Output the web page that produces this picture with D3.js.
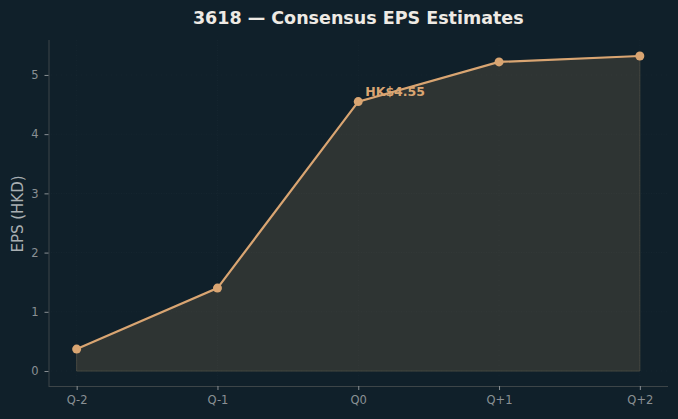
<!DOCTYPE html>
<html>
<head>
<meta charset="utf-8">
<script src="https://cdn.jsdelivr.net/npm/d3@7"></script>
<style>
  body { margin: 0; background: #10202a; }
  svg { display: block; font-family: "DejaVu Sans", sans-serif; }
</style>
</head>
<body>
<script>
// data
let quarters = ["Q-2", "Q-1", "Q0", "Q+1", "Q+2"]
let eps = [0.37, 1.40, 4.55, 5.22, 5.32]
let yTicks = [0, 1, 2, 3, 4, 5]
let current = 2 // Q0 label

let W = 678, H = 419
let margin = {top: 40, right: 10, bottom: 33, left: 48.5}

let svg = d3.select("body").append("svg")
  .attr("width", W).attr("height", H)

svg.append("rect").attr("width", W).attr("height", H).attr("fill", "#10202a")

// scales
let x = d3.scaleLinear().domain([-0.2, 4.2]).range([margin.left, W - margin.right])
let y = d3.scaleLinear().domain([-0.253, 5.59]).range([H - margin.bottom, margin.top])

// area fill
let area = d3.area()
  .x((d, i) => x(i))
  .y0(y(0))
  .y1(d => y(d))
svg.append("path")
  .datum(eps)
  .attr("d", area)
  .attr("fill", "#2e3433")
  .attr("stroke", "#45473f").attr("stroke-width", 1)

// grid (faint, on top of fill like matplotlib)
let grid = svg.append("g")
grid.selectAll(".gy").data(yTicks).enter().append("line")
  .attr("x1", margin.left).attr("x2", W - margin.right)
  .attr("y1", d => y(d)).attr("y2", d => y(d))
  .attr("stroke", "#ffffff").attr("stroke-opacity", 0.04).attr("stroke-width", 0.8)
  .attr("stroke-dasharray", "1,1.5")
grid.selectAll(".gx").data(quarters).enter().append("line")
  .attr("x1", (d, i) => x(i)).attr("x2", (d, i) => x(i))
  .attr("y1", margin.top).attr("y2", H - margin.bottom)
  .attr("stroke", "#ffffff").attr("stroke-opacity", 0.04).attr("stroke-width", 0.8)
  .attr("stroke-dasharray", "1,1.5")

// line
let line = d3.line().x((d, i) => x(i)).y(d => y(d))
svg.append("path")
  .datum(eps)
  .attr("d", line)
  .attr("fill", "none")
  .attr("stroke", "#d9a572").attr("stroke-width", 2.2)

svg.selectAll(".pt").data(eps).enter().append("circle")
  .attr("cx", (d, i) => x(i)).attr("cy", d => y(d))
  .attr("r", 4.5).attr("fill", "#d9a572")

// annotation
svg.append("text")
  .attr("x", x(current) + 7).attr("y", y(eps[current]) - 6)
  .attr("fill", "#d9a572").attr("font-size", 12.5).attr("font-weight", "bold")
  .text("HK$" + eps[current].toFixed(2))

// axes
let xAxis = svg.append("g")
  .attr("transform", "translate(0," + (H - margin.bottom) + ")")
  .call(d3.axisBottom(x).tickValues(d3.range(quarters.length)).tickFormat(i => quarters[i]).tickSize(4).tickPadding(6))
let yAxis = svg.append("g")
  .attr("transform", "translate(" + margin.left + ",0)")
  .call(d3.axisLeft(y).tickValues(yTicks).tickFormat(d3.format("d")).tickSize(4).tickPadding(6))

;[xAxis, yAxis].forEach(a => {
  a.select(".domain").attr("stroke", "#3d4548").attr("stroke-width", 1)
  a.selectAll(".tick line").attr("stroke", "#8a9094")
  a.selectAll(".tick text").attr("fill", "#8a9094").attr("font-size", 11.5)
    .attr("font-family", "DejaVu Sans, sans-serif")
})
xAxis.select(".domain").attr("d", "M" + margin.left + ",0.5H" + (W - margin.right))
yAxis.select(".domain").attr("d", "M0.5," + margin.top + "V" + (H - margin.bottom))

// labels
svg.append("text")
  .attr("transform", "translate(23,214) rotate(-90)")
  .attr("text-anchor", "middle")
  .attr("fill", "#a9afb2").attr("font-size", 15)
  .text("EPS (HKD)")

svg.append("text")
  .attr("x", (margin.left + W - margin.right) / 2).attr("y", 24)
  .attr("text-anchor", "middle")
  .attr("fill", "#eeeae4").attr("font-size", 17.5).attr("font-weight", "bold")
  .text("3618 — Consensus EPS Estimates")
</script>
</body>
</html>
